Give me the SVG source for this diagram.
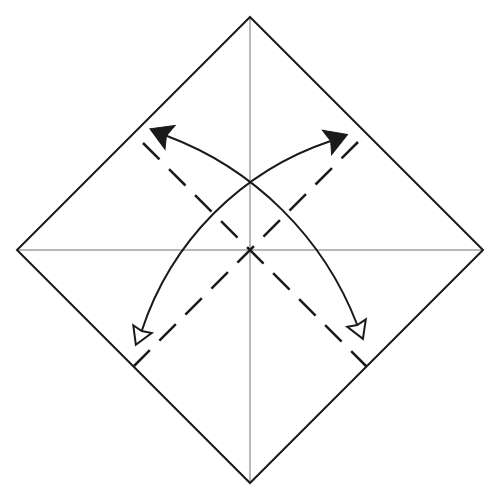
<svg xmlns="http://www.w3.org/2000/svg" xmlns:xlink="http://www.w3.org/1999/xlink" width="500" height="500" viewBox="0 0 500 500">
  <style>
    .edge { fill: none; stroke: #1a1a1a; stroke-width: 2; stroke-linejoin: miter; }
    .crease { fill: none; stroke: #a0a0a0; stroke-width: 1.5; }
    .valley { fill: none; stroke: #1a1a1a; stroke-width: 2.5; stroke-dasharray: 23.3 13.5; stroke-linecap: butt; }
    .arc { fill: none; stroke: #1a1a1a; stroke-width: 2; }
    .head-solid { fill: #1a1a1a; stroke: #1a1a1a; stroke-width: 1; stroke-linejoin: miter; }
    .head-hollow { fill: #ffffff; stroke: #1a1a1a; stroke-width: 2; stroke-linejoin: miter; }
  </style>
  <defs>
    <path id="solidHead" class="head-solid" d="M18,0 L-4,-13 L0,0 L-4,13 Z"/>
    <path id="hollowHead" class="head-hollow" d="M15,0 L-2,-10 L0,0 L-2,10 Z"/>
  </defs>
  <rect x="0" y="0" width="500" height="500" fill="#ffffff"/>
  <g id="paper">
    <line class="crease" x1="17" y1="250" x2="483" y2="250"/>
    <line class="crease" x1="250" y1="17" x2="250" y2="483"/>
    <polygon class="edge" points="250,17 483,250 250,483 17,250"/>
  </g>
  <g id="fold-lines">
    <line class="valley" x1="143" y1="143" x2="366.5" y2="366.5"/>
    <line class="valley" x1="358" y1="142" x2="134" y2="366"/>
  </g>
  <g id="connectors">
    <path class="arc" d="M166.4,135.8 A327,327 0 0 1 357.3,325"/>
    <path class="arc" d="M330.7,141 A298,298 0 0 0 141.7,331"/>
    <use xlink:href="#solidHead" href="#solidHead" transform="translate(166.4,135.8) rotate(203)"/>
    <use xlink:href="#solidHead" href="#solidHead" transform="translate(330.7,141) rotate(-21)"/>
    <use xlink:href="#hollowHead" href="#hollowHead" transform="translate(357.3,325) rotate(68)"/>
    <use xlink:href="#hollowHead" href="#hollowHead" transform="translate(141.7,331) rotate(113)"/>
  </g>
</svg>
